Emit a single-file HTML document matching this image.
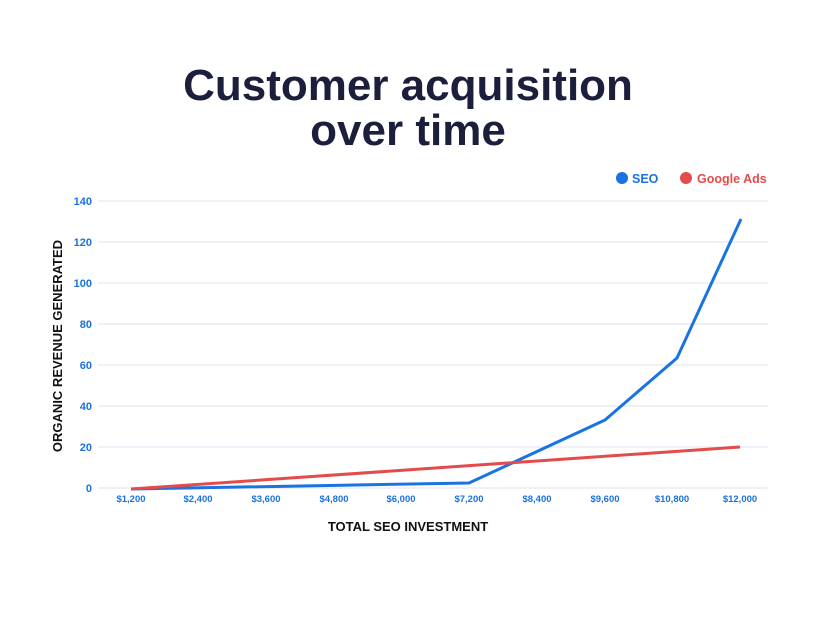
<!DOCTYPE html>
<html><head><style>
body{margin:0;width:816px;height:612px;background:#fff;overflow:hidden;font-family:"Liberation Sans",sans-serif}
</style></head><body>
<svg width="816" height="612" xmlns="http://www.w3.org/2000/svg" font-family="Liberation Sans, sans-serif">
<text x="408" y="100" text-anchor="middle" font-size="44" font-weight="bold" fill="#1b1f3b">Customer acquisition</text>
<text x="408" y="145" text-anchor="middle" font-size="44" font-weight="bold" fill="#1b1f3b">over time</text>
<circle cx="622" cy="178" r="6" fill="#1a73e0"/>
<text x="632" y="183" font-size="12.5" font-weight="bold" fill="#1a73e0">SEO</text>
<circle cx="686" cy="178" r="6" fill="#e44b4b"/>
<text x="697" y="183" font-size="12.5" font-weight="bold" fill="#e44b4b">Google Ads</text>
<g stroke="#e3ebf3" stroke-width="1.3">
<line x1="98" x2="768" y1="201" y2="201"/><line x1="98" x2="768" y1="242" y2="242"/>
<line x1="98" x2="768" y1="283" y2="283"/><line x1="98" x2="768" y1="324" y2="324"/>
<line x1="98" x2="768" y1="365" y2="365"/><line x1="98" x2="768" y1="406" y2="406"/>
<line x1="98" x2="768" y1="447" y2="447"/><line x1="98" x2="768" y1="488" y2="488"/>
</g>
<g font-size="11" font-weight="bold" fill="#1a73e0" text-anchor="end">
<text x="92" y="205">140</text><text x="92" y="246">120</text><text x="92" y="287">100</text>
<text x="92" y="328">80</text><text x="92" y="369">60</text><text x="92" y="410">40</text>
<text x="92" y="451">20</text><text x="92" y="492">0</text>
</g>
<g font-size="9.5" font-weight="bold" fill="#1a73e0" text-anchor="middle">
<text x="131" y="502">$1,200</text><text x="198" y="502">$2,400</text><text x="266" y="502">$3,600</text>
<text x="334" y="502">$4,800</text><text x="401" y="502">$6,000</text><text x="469" y="502">$7,200</text>
<text x="537" y="502">$8,400</text><text x="605" y="502">$9,600</text><text x="672" y="502">$10,800</text>
<text x="740" y="502">$12,000</text>
</g>
<text x="408" y="531" text-anchor="middle" font-size="13" font-weight="bold" fill="#111">TOTAL SEO INVESTMENT</text>
<text transform="translate(62,346) rotate(-90)" text-anchor="middle" font-size="13" font-weight="bold" fill="#111">ORGANIC REVENUE GENERATED</text>
<polyline points="131,489 469,483 605,420 677,358 741,219" fill="none" stroke="#1a73e0" stroke-width="3" stroke-linejoin="round"/>
<polyline points="131,489 740,447" fill="none" stroke="#e44b4b" stroke-width="3"/>
</svg>
</body></html>
